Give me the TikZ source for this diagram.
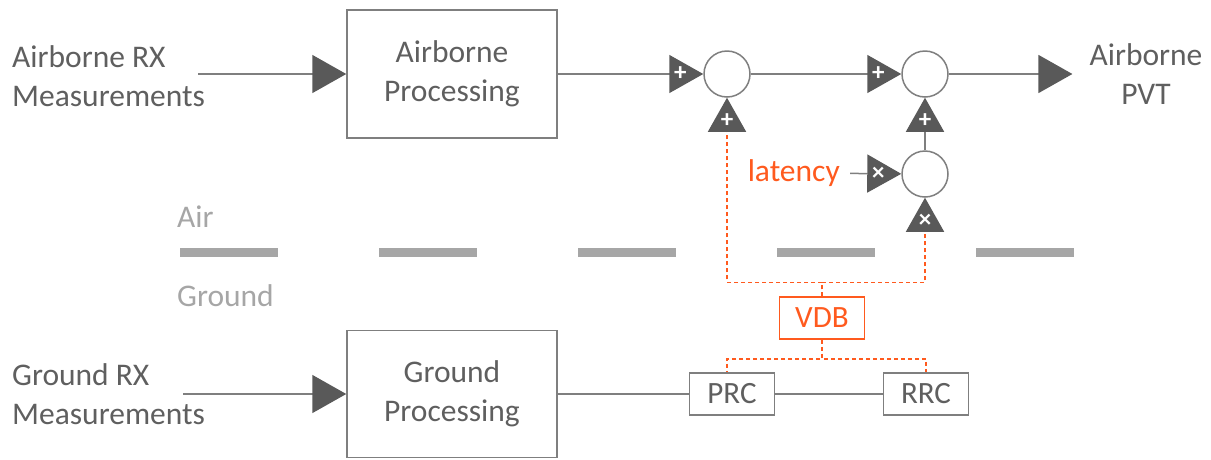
\documentclass[tikz,border=0pt]{standalone}
\usepackage{fontspec}
\setmainfont{Carlito}
\usetikzlibrary{arrows.meta,positioning}

\definecolor{txtgray}{HTML}{5F5F5F}
\definecolor{linegray}{HTML}{7F7F7F}
\definecolor{tipgray}{HTML}{595959}
\definecolor{divgray}{HTML}{A6A6A6}
\definecolor{vdborange}{HTML}{FF5A1E}

\begin{document}
\begin{tikzpicture}[x=1pt,y=-1pt]
\tikzset{
block/.style={rectangle,draw=linegray,line width=1.5pt,text=txtgray,minimum width=210pt,minimum height=128pt,
align=center,font=\fontsize{31.5}{39}\selectfont},
smallbox/.style={rectangle,draw=linegray,line width=1.5pt,text=txtgray,minimum width=85pt,minimum height=42pt,
inner sep=0pt,font=\fontsize{31}{35}\selectfont},
sum/.style={circle,draw=linegray,line width=1.5pt,fill=white,minimum size=46pt,inner sep=0pt},
mylabel/.style={text=txtgray,align=left,inner sep=0pt,font=\fontsize{31.5}{39.5}\selectfont},
sign/.style={text=white,inner sep=0pt,font=\fontsize{25}{25}\selectfont\bfseries},
myline/.style={draw=linegray,line width=1.5pt},
myarrow/.style={myline,-{Triangle[length=34pt,width=38pt,color=tipgray]}},
sigline/.style={draw=vdborange,line width=1.5pt,dash pattern=on 4pt off 3pt},
sigarrow/.style={sigline,-{Triangle[length=34pt,width=38pt,color=tipgray]}},
divider/.style={draw=divgray,line width=9pt,dash pattern=on 98pt off 101pt},
}
\useasboundingbox (0,0) rectangle (1211,459);

\node [block] (abox) at (452,74) {Airborne\\Processing};
\node [block, below of=abox, node distance=320pt, minimum height=127pt] (gbox) {Ground\\Processing};
\node [sum, right of=abox, node distance=275pt] (sum1) {};
\node [sum, right of=sum1, node distance=198pt] (sum2) {};
\node [sum, below of=sum2, node distance=100pt] (sum3) {};
\node [smallbox, right of=gbox, node distance=280pt] (prc) {PRC};
\node [smallbox, right of=prc, node distance=194pt] (rrc) {RRC};
\node [smallbox, draw=vdborange, text=vdborange, above of=prc, node distance=76pt, xshift=90pt] (vdb) {VDB};

\node [mylabel, anchor=west] (inair) at (12,76) {Airborne RX\\Measurements};
\node [mylabel, anchor=west] (ingnd) at (12,394) {Ground RX\\Measurements};
\node [mylabel, align=center, right of=sum2, node distance=221pt] (pvt) {Airborne\\PVT};
\node [mylabel, text=vdborange, anchor=east] (lat) at (840,173) {latency};
\node [mylabel, text=divgray, anchor=west] (air) at (177,217) {Air};
\node [mylabel, text=divgray, anchor=west] (gnd) at (177,296) {Ground};

\coordinate (a0) at (198,74);
\coordinate (g0) at (183,394);

\draw[divider] (180,252) -- (1075,252);

\draw[myarrow] (a0) -- (abox);
\draw[myarrow] (g0) -- (gbox);
\draw[myarrow] (abox) -- (sum1);
\draw[myarrow] (sum1) -- (sum2);
\draw[myarrow, shorten >=17pt] (sum2) -- (pvt);
\draw[myarrow] (sum3) -- (sum2);
\draw[myarrow, shorten <=10pt] (lat) -- (sum3);
\draw[sigarrow] (vdb.north) -- ++(0,-14) -| (sum1);
\draw[sigarrow] (vdb.north) -- ++(0,-14) -| (sum3);
\draw[sigline] (vdb.south) -- ++(0,19) -| (sum1 |- prc.north);
\draw[sigline] (vdb.south) -- ++(0,19) -| (rrc.north);
\draw[myline] (gbox) -- (prc);
\draw[myline] (prc) -- (rrc);

% signs on the triangles
\node [sign] (s1w) at ([xshift=-23pt]sum1.west) {+};
\node [sign] (s1s) at ([yshift=-23pt]sum1.south) {+};
\node [sign] (s2w) at ([xshift=-23pt]sum2.west) {+};
\node [sign] (s2s) at ([yshift=-23pt]sum2.south) {+};
\node [sign] (s3w) at ([xshift=-23pt]sum3.west) {×};
\node [sign] (s3s) at ([yshift=-23pt]sum3.south) {×};
\end{tikzpicture}
\end{document}
